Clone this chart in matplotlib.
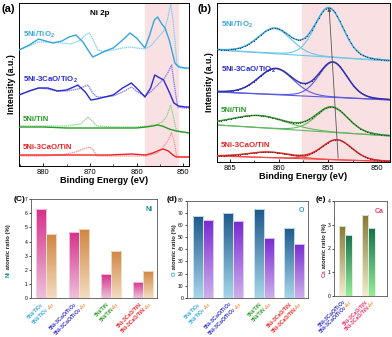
import numpy as np
import matplotlib
matplotlib.use("Agg")
import matplotlib.pyplot as plt
from matplotlib.colors import LinearSegmentedColormap
from matplotlib.ticker import MultipleLocator

plt.rcParams["font.family"] = ["Liberation Sans", "DejaVu Sans"]
plt.rcParams["mathtext.fontset"] = "custom"
plt.rcParams["mathtext.rm"] = "Liberation Sans"
plt.rcParams["mathtext.bf"] = "Liberation Sans:bold"
plt.rcParams["mathtext.default"] = "bf"

# ---------------- data ----------------
samples = ["5Ni/TiO$_2$", "5Ni-3CaO/TiO$_2$", "5Ni/TiN", "5Ni-3CaO/TiN"]
sample_colors = ["#35a6e0", "#2a2ad0", "#2a9a2a", "#f02222"]

# (a) Ni 2p survey (binding energy, intensity)
tio2_e = [885.2, 883, 881, 879.5, 878, 876, 874.5, 873, 871.5, 870, 869.4, 868, 866.8, 865, 863, 861.4,
          860, 858.2, 857.2, 856.2, 855.5, 854.6, 853.9, 853, 852.2, 851.8, 851, 849.5, 848.7]
tio2_i = [116, 121, 127, 125, 123, 125, 129, 131, 124, 113, 109, 112, 115, 118, 126, 133,
          128, 118, 131, 146, 149, 142, 138, 126, 111, 103, 99, 98, 98]
tio2_ar_e = [885.2, 883, 881, 879, 876, 874, 872, 871, 870.1, 869.3, 868.3, 867, 865, 863, 861.4, 860,
             858.2, 857, 855.5, 854, 853.3, 852.7, 852.2, 851.7, 851.4, 850.5, 848.7]
tio2_ar_i = [116, 120, 124, 124, 123, 122, 126, 131, 133, 126, 116, 114, 116, 118, 119, 118,
             117, 120, 128, 136, 148, 162, 146, 121, 103, 98, 97]
catio2_e = [885.2, 883, 881, 879, 877, 875, 873, 872.6, 871, 869.8, 868.5, 866.8, 865, 863, 861.1, 859.8,
            858.2, 857, 856.1, 855, 854.2, 853, 852, 851, 849.5, 848.7]
catio2_i = [71, 75, 78, 78, 75, 76, 80, 81, 74, 66, 67, 69, 71, 78, 83, 77,
            69, 78, 91, 88, 86, 74, 63, 60, 59, 59]
catio2_ar_e = [885.2, 883, 881, 879, 877, 875, 872.5, 871.5, 870.4, 869.4, 868.5, 866.8, 865, 863, 861.1,
               859.8, 858.2, 857, 855.5, 854, 853.2, 852.5, 851.9, 851.2, 850, 848.7]
catio2_ar_i = [71, 75, 78, 77, 75, 75, 77, 79, 81, 73, 69, 69, 70, 74, 79,
               74, 70, 74, 81, 88, 94, 101, 81, 59, 58, 58]
tin_e = [885.2, 880, 875, 870, 865, 860, 858, 856.5, 855.5, 854.5, 853, 851.5, 850, 848.7]
tin_i = [39, 39, 38, 38, 38, 38, 39, 40, 41, 40, 37, 35, 34, 33]
tin_ar_e = [885.2, 880, 875, 872, 870.4, 869.3, 868.5, 865, 860, 858, 856, 854.5, 853.5, 852.7, 852.2,
            851.5, 850.5, 848.7]
tin_ar_i = [40, 40, 40, 42, 49, 44, 40, 39, 39, 40, 41, 44, 50, 61, 51, 36, 34, 33]
catin_e = [885.2, 880, 875, 870, 866, 861, 858, 856.5, 855, 854.3, 853.2, 852.2, 851.5, 848.7]
catin_i = [11, 11, 11, 11, 11, 12, 11, 13, 16, 17, 15, 11, 9, 9]
catin_ar_e = [885.2, 880, 876, 873, 871.5, 870, 869.3, 868.5, 865, 860, 858, 855.5, 854.3, 853.2, 852.5,
              852, 851.4, 850, 848.7]
catin_ar_i = [10, 10, 11, 14, 17, 19, 16, 10, 10, 10, 10, 13, 19, 26, 33, 26, 10, 9, 9]

# (b) Ni 2p3/2 fit parameters
b_base_left = [112, 70, 37, 6]
b_base_right = [101, 62, 26, 0.5]
sat_center = [860.4, 860.3, 862.0, 861.0]
sat_height = [25, 26, 12, 5.5]
sat_fwhm = [4.0, 4.2, 6.5, 5.0]
main_center = [854.9, 854.5, 854.6, 854.1]
main_height = [49, 35, 25, 20]
main_fwhm = [3.4, 3.4, 3.8, 3.6]

# (c)-(e) atomic ratios
ni_fresh = [6.31, 4.66, 1.69, 1.13]
ni_ar = [4.52, 4.87, 3.36, 1.95]
o_fresh = [67.1, 69.6, 72.9, 57.8]
o_ar = [63.8, 63.0, 49.0, 44.7]
ca_samples = ["5Ni-3CaO/TiO$_2$", "5Ni-3CaO/TiN"]
ca_colors = ["#2a2ad0", "#f0306a"]
ca_fresh = [2.96, 3.39]
ca_ar = [2.58, 2.86]

W, H = 392, 337
fig = plt.figure(figsize=(W / 100, H / 100), dpi=100)


def px_axes(l, t, r, b):
    return fig.add_axes([l / W, 1 - b / H, (r - l) / W, (b - t) / H])


def multi_text(ax, xy, parts, colors, size, angle, xycoords, off=(0, 0), align="end"):
    r = fig.canvas.get_renderer()
    ws = []
    for p in parts:
        t = fig.text(0, 0, p, fontsize=size, fontweight="bold")
        ws.append(t.get_window_extent(r).width * 72.0 / fig.dpi)
        t.remove()
    tot = sum(ws)
    c, s = np.cos(np.radians(angle)), np.sin(np.radians(angle))
    pos = {"end": -tot, "center": -tot / 2, "start": 0}[align]
    for p, col, w in zip(parts, colors, ws):
        ax.annotate(p, xy=xy, xycoords=xycoords, xytext=(off[0] + pos * c, off[1] + pos * s),
                    textcoords="offset points", rotation=angle, rotation_mode="anchor",
                    ha="left", va="baseline", fontsize=size, fontweight="bold", color=col,
                    annotation_clip=False)
        pos += w


def style_xps(ax):
    for sp in ax.spines.values():
        sp.set_linewidth(0.7)
    ax.set_yticks([])
    ax.tick_params(axis="x", direction="in", labelsize=5.4, length=2, width=0.6, pad=2)
    ax.tick_params(axis="x", which="minor", direction="in", length=1.2, width=0.5)
    ax.set_xlabel("Binding Energy (eV)", fontsize=6.6, fontweight="bold", labelpad=0.3)
    ax.set_ylabel("Intensity (a.u.)", fontsize=6.3, fontweight="bold", labelpad=2)


# ---------------- (a) ----------------
axa = px_axes(19, 3, 189.3, 166)
axa.axvspan(858.2, 851.2, color="#f9e1e3", zorder=0)
light = ["#85d0ec", "#8282ea", "#93d493", "#f59a9a"]
curves = [(tio2_ar_e, tio2_ar_i, tio2_e, tio2_i), (catio2_ar_e, catio2_ar_i, catio2_e, catio2_i),
          (tin_ar_e, tin_ar_i, tin_e, tin_i), (catin_ar_e, catin_ar_i, catin_e, catin_i)]
for k, (e2, i2, e1, i1) in enumerate(curves):
    axa.plot(e2, i2, color=light[k], lw=0.9, ls=(0, (1.2, 0.5)), zorder=2)
    axa.plot(e1, i1, color=sample_colors[k], lw=1.0, zorder=3)
label_y_a = [129, 84, 45, 17]
for k in range(4):
    axa.text(884.4, label_y_a[k], samples[k], color=sample_colors[k], fontsize=5.6, fontweight="bold")
axa.text(0.475, 0.925, "Ni 2p", transform=axa.transAxes, fontsize=5.8, fontweight="bold", ha="center")
axa.set_xlim(885.2, 848.7)
axa.set_ylim(0, 163)
axa.xaxis.set_major_locator(MultipleLocator(10))
axa.xaxis.set_minor_locator(MultipleLocator(5))
style_xps(axa)

# ---------------- (b) ----------------
axb = px_axes(216.7, 3, 390, 162)
xlo, xhi = 866.3, 848.7
axb.axvspan(857.6, xhi, color="#f9e1e3", zorder=0)
E = np.linspace(xlo, xhi, 300)


def pv(x, c, h, f, eta=0.15):
    g = np.exp(-4 * np.log(2) * ((x - c) / f) ** 2)
    lo = 1 / (1 + (2 * (x - c) / f) ** 2)
    return h * ((1 - eta) * g + eta * lo)


comp_col = ["#6cc6ec", "#5a5ae0", "#62b862", "#f04a4a"]
for k in range(4):
    base = b_base_left[k] + (b_base_right[k] - b_base_left[k]) * (xlo - E) / (xlo - xhi)
    p1 = pv(E, sat_center[k], sat_height[k], sat_fwhm[k])
    p2 = pv(E, main_center[k], main_height[k], main_fwhm[k])
    axb.plot(E, base, color=comp_col[k], lw=0.8, zorder=2)
    axb.plot(E, base + p1, color=comp_col[k], lw=0.8, zorder=2)
    axb.plot(E, base + p2, color=comp_col[k], lw=0.8, zorder=2)
    env = base + p1 + p2
    axb.plot(E[::4], env[::4], ls="none", marker="o", ms=0.9, mfc="#444444", mec="none", zorder=4)
    axb.plot(E, env, color=sample_colors[k], lw=1.0, zorder=3)
label_y_b = [135, 90, 50, 15]
for k in range(4):
    axb.text(865.9, label_y_b[k], samples[k], color=sample_colors[k], fontsize=5.6, fontweight="bold")
axb.annotate("", xy=(main_center[0], 157), xytext=(main_center[-1] - 0.15, 1),
             arrowprops=dict(arrowstyle="-|>", color="#555555", lw=0.6, mutation_scale=5), zorder=5)
axb.set_xlim(xlo, xhi)
axb.set_ylim(0, 159)
axb.xaxis.set_major_locator(MultipleLocator(5))
axb.xaxis.set_minor_locator(MultipleLocator(2.5))
style_xps(axb)

fig.text(2 / W, 1 - 4 / H, "(a)", fontsize=8, fontweight="bold", va="top")
fig.text(197 / W, 1 - 4 / H, "(b)", fontsize=8, fontweight="bold", va="top")


# ---------------- bar panels ----------------
def grad_bars(ax, xs, vals, width, top, bottom, edge):
    cmap = LinearSegmentedColormap.from_list("g", [bottom, top])
    bars = ax.bar(xs, vals, width, color="none", edgecolor=edge, linewidth=0.6, zorder=3)
    grad = np.linspace(0, 1, 128).reshape(-1, 1)
    for b in bars:
        x0, w, h = b.get_x(), b.get_width(), b.get_height()
        im = ax.imshow(grad, cmap=cmap, origin="lower", extent=[x0, x0 + w, 0, h],
                       aspect="auto", zorder=2, interpolation="bilinear")
        im.set_clip_path(b)


def style_bar(ax, ylim, step):
    ax.set_ylim(*ylim)
    ax.yaxis.set_major_locator(MultipleLocator(step))
    ax.set_xticks([])
    ax.tick_params(axis="y", labelsize=3.6, length=1.5, width=0.5, pad=1)
    for sp in ax.spines.values():
        sp.set_linewidth(0.6)
        sp.set_color("#555555")


def bar_labels(ax, xs, names, cols, tail=None):
    for x, nm, col in zip(xs, names, cols):
        parts, colors = [nm], [col]
        if tail:
            parts.append(tail)
            colors.append("#f5934a")
        multi_text(ax, (x, 0), parts, colors, 3.7, 45, ("data", "axes fraction"), off=(2.5, -4.5))


# (c) Ni
axc = px_axes(31, 199, 157, 298.3)
xc = np.arange(len(ni_fresh))
wc = 0.31
grad_bars(axc, xc - wc / 2, ni_fresh, wc, "#d62f8a", "#eec0dc", "#f4d6e6")
grad_bars(axc, xc + wc / 2, ni_ar, wc, "#cf8540", "#f3dcc0", "#f6e4d0")
axc.set_xlim(-0.47, 3.42)
style_bar(axc, (0, 7), 1)
bar_labels(axc, xc - wc / 2, samples, sample_colors)
bar_labels(axc, xc + wc / 2, samples, sample_colors, "-Ar")
axc.text(0.965, 0.93, "Ni", transform=axc.transAxes, color="#178c8c", fontsize=5, fontweight="bold",
         ha="right", va="top")
multi_text(axc, (10, H - 251), ["Ni", " atomic ratio (%)"], ["#178c8c", "#222222"], 4.3, 90,
           "figure pixels", align="center")

# (d) O
axd = px_axes(187, 200.5, 308.3, 298)
xd = np.arange(len(o_fresh))
wd = 0.33
grad_bars(axd, xd - wd / 2, o_fresh, wd, "#1d5a8c", "#a6d6ea", "#d8eef6")
grad_bars(axd, xd + wd / 2, o_ar, wd, "#7a2ad2", "#cdb0ea", "#e6dcf4")
axd.set_xlim(-0.53, 3.47)
style_bar(axd, (0, 80), 10)
bar_labels(axd, xd - wd / 2, samples, sample_colors)
bar_labels(axd, xd + wd / 2, samples, sample_colors, "-Ar")
axd.text(0.965, 0.93, "O", transform=axd.transAxes, color="#2c9ee0", fontsize=5, fontweight="bold",
         ha="right", va="top")
multi_text(axd, (176, H - 250), ["O", " atomic ratio (%)"], ["#2c9ee0", "#222222"], 4.3, 90,
           "figure pixels", align="center")

# (e) Ca
axe = px_axes(334.3, 201, 386.7, 296)
xe = np.arange(len(ca_fresh))
we = 0.29
grad_bars(axe, xe - we / 2, ca_fresh, we, "#847a36", "#f2ecd0", "#f4f0dc")
grad_bars(axe, xe + we / 2, ca_ar, we, "#157050", "#98ec98", "#d4f4d4")
axe.set_xlim(-0.49, 1.81)
style_bar(axe, (0, 4), 1)
bar_labels(axe, xe - we / 2, ca_samples, ca_colors)
bar_labels(axe, xe + we / 2, ca_samples, ca_colors, "-Ar")
axe.text(0.95, 0.93, "Ca", transform=axe.transAxes, color="#e0406a", fontsize=5, fontweight="bold",
         ha="right", va="top")
multi_text(axe, (326, H - 250), ["Ca", " atomic ratio (%)"], ["#e0406a", "#222222"], 4.3, 90,
           "figure pixels", align="center")

fig.text(14 / W, 1 - 196 / H, "(C)", fontsize=6, fontweight="bold", va="top")
fig.text(167 / W, 1 - 196 / H, "(d)", fontsize=6, fontweight="bold", va="top")
fig.text(316 / W, 1 - 196 / H, "(e)", fontsize=6, fontweight="bold", va="top")

fig.savefig("out.png", dpi=100)
